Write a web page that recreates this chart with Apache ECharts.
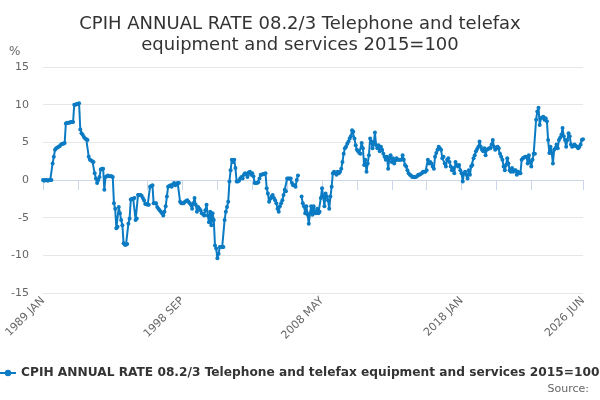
<!DOCTYPE html>
<html>
<head>
<meta charset="utf-8">
<script src="https://cdn.jsdelivr.net/npm/echarts@6/dist/echarts.min.js"></script>
<style>html,body{margin:0;padding:0;background:#fff}#c{width:600px;height:400px}</style>
</head>
<body>
<div id="c"></div>
<script>
const monthNames = ['JAN','FEB','MAR','APR','MAY','JUN','JUL','AUG','SEP','OCT','NOV','DEC'];
const firstYear = 1989;
const lastYear = 2026;
const lastMonthCount = 6;
const yTicks = [-15, -10, -5, 0, 5, 10, 15];
const seriesName = 'CPIH ANNUAL RATE 08.2/3 Telephone and telefax equipment and services 2015=100';

const rates1989to1998 = [
  0, -0.1, 0, 0, -0.1, 0, 0, 0, 2.2, 3.1, 4.0, 4.2,
  4.3, 4.4, 4.5, 4.7, 4.8, 4.8, 4.9, 7.5, 7.6, 7.6, 7.6, 7.7,
  7.7, 7.7, 10.0, 10.0, 10.1, 10.1, 10.2, 6.7, 6.2, 6.0, 5.7, 5.5,
  5.4, 5.3, 3.1, 2.7, 2.6, 2.5, 2.4, 0.9, 0.2, -0.4, 0.0, 0.4,
  1.4, 1.5, 1.5, -1.3, 0.4, 0.5, 0.6, 0.5, 0.5, 0.5, 0.4, -3.1,
  -3.8, -6.4, -6.2, -3.6, -4.4, -5.3, -6.0, -8.4, -8.6, -8.6, -8.5, -5.8,
  -5.1, -2.6, -2.5, -2.5, -2.4, -5.3, -5.1, -2.0, -2.0, -2.0, -2.1, -2.4,
  -2.7, -3.2, -3.2, -3.3, -3.3, -0.9, -0.8, -0.7, -3.1, -3.1, -3.1, -3.6,
  -3.8, -4.0, -4.2, -4.4, -4.7, -4.2, -3.5, -2.2, -0.9, -0.8, -0.7, -0.9,
  -0.6, -0.4, -0.7, -0.5, -0.4, -0.4, -2.9, -3.1, -3.1, -3.1, -2.9, -2.8
];
const rates1999to2008 = [
  -2.7, -2.9, -3.1, -3.3, -3.8, -3.1, -2.4, -3.3, -4.2, -3.6, -3.8, -4.0,
  -4.4, -4.5, -4.7, -4.0, -3.3, -4.7, -5.6, -4.2, -6.0, -4.4, -5.3, -8.7,
  -9.1, -10.4, -9.8, -8.9, -8.9, -8.9, -8.9, -5.3, -4.2, -3.6, -2.9, -0.2,
  1.3, 2.7, 2.4, 2.7, 1.6, -0.2, -0.2, -0.1, 0.2, 0.4, 0.2, 0.7,
  0.9, 0.8, 0.4, 1.0, 1.1, 0.7, 0.9, 0.5, -0.4, -0.4, -0.4, -0.3,
  0.2, 0.7, 0.7, 0.8, 0.8, 0.9, -1.1, -1.8, -2.9, -2.5, -2.2, -2.0,
  -2.4, -2.7, -3.1, -3.8, -4.2, -3.5, -3.1, -2.7, -2.0, -1.3, -1.5, 0.2,
  0.2, 0.2, 0.2, -0.4, -0.7, -0.7, -0.9, 0.0, 0.6, null, null, -2.2,
  -3.1, -3.5, -4.4, -3.5, -4.6, -5.8, -4.4, -3.5, -4.6, -3.5, -4.4, -4.4,
  -3.8, -4.4, -4.2, -2.4, -1.1, -2.2, -3.5, -1.8, -2.2, -2.7, -3.8, -2.2
];
const rates2009to2018 = [
  -0.9, 0.9, 1.1, 0.9, 0.7, 1.1, 0.9, 1.1, 1.5, 2.4, 3.5, 4.2,
  4.4, 4.8, 5.1, 5.5, 5.8, 6.6, 6.4, 5.5, 4.6, 4.0, 3.8, 3.6,
  3.5, 4.9, 4.2, 2.0, 2.7, 1.1, 2.2, 3.3, 5.5, 5.1, 4.2, 4.9,
  6.3, 4.6, 4.2, 4.6, 3.8, 4.4, 4.0, 3.5, 3.1, 2.7, 3.1, 1.5,
  2.9, 3.3, 2.4, 2.9, 2.2, 2.6, 2.9, 2.7, 2.7, 2.7, 2.7, 3.3,
  2.7, 2.0, 1.8, 1.3, 0.9, 0.7, 0.6, 0.4, 0.4, 0.35, 0.4, 0.5,
  0.7, 0.7, 0.8, 0.9, 1.1, 1.1, 1.1, 1.3, 2.7, 2.2, 2.4, 2.2,
  1.8, 1.5, 3.1, 3.6, 4.0, 4.4, 4.2, 4.0, 2.9, 3.1, 2.2, 1.8,
  2.7, 2.9, 2.4, 1.8, 1.3, 1.6, 0.9, 2.4, 2.0, 1.8, 2.0, 1.3,
  0.9, -0.2, 0.9, 1.1, 0.7, 0.2, 1.3, 0.7, 1.8, 2.0, 2.9, 3.3
];
const rates2019to2026 = [
  3.8, 4.1, 4.4, 5.1, 4.4, 4.0, 3.8, 4.2, 3.3, 4.0, 4.1, 4.2,
  4.2, 4.7, 5.3, 4.4, 4.0, 4.2, 4.4, 4.2, 3.5, 3.1, 2.7, 1.8,
  1.3, 2.0, 2.9, 2.2, 1.3, 1.1, 1.6, 1.1, 1.3, 1.3, 0.7, 1.1,
  0.9, 0.9, 2.7, 2.9, 3.0, 3.1, 3.1, 2.2, 3.3, 2.4, 1.8, 2.7,
  3.5, 3.5, 8.0, 9.1, 9.6, 7.3, 8.2, 8.3, 8.4, 8.0, 8.2, 7.8,
  5.3, 3.6, 4.4, 3.6, 2.2, 4.0, 4.2, 4.7, 4.2, 5.3, 5.6, 6.0,
  6.9, 5.8, 5.3, 4.4, 5.3, 6.2, 5.8, 4.7, 4.4, 4.5, 4.7, 4.5,
  4.4, 4.2, 4.4, 4.7, 5.3, 5.4
];

const categories = [];
for (let y = firstYear; y <= lastYear; y++) {
  const n = (y === lastYear) ? lastMonthCount : 12;
  for (let m = 0; m < n; m++) categories.push(y + ' ' + monthNames[m]);
}
const values = rates1989to1998.concat(rates1999to2008, rates2009to2018, rates2019to2026);
const lastIdx = categories.length - 1;

const font = 'DejaVu Sans';
const chart = echarts.init(document.getElementById('c'), null, {renderer: 'canvas'});
chart.setOption({
  animation: false,
  backgroundColor: '#ffffff',
  textStyle: {fontFamily: font},
  title: {
    text: 'CPIH ANNUAL RATE 08.2/3 Telephone and telefax\nequipment and services 2015=100',
    left: 'center',
    top: 9,
    textStyle: {fontFamily: font, fontSize: 18, fontWeight: 'normal', color: '#333333', lineHeight: 21, align: 'center'}
  },
  grid: {left: 43, right: 17, top: 67, bottom: 107, containLabel: false},
  legend: {
    left: -6,
    top: 362,
    itemWidth: 16,
    itemHeight: 8,
    textStyle: {fontFamily: font, fontSize: 12.2, fontWeight: 'bold', color: '#333333'},
    data: [seriesName]
  },
  graphic: [
    {type: 'text', left: 9, top: 46, style: {text: '%', font: '12px "DejaVu Sans"', fill: '#666666'}},
    {type: 'text', right: 11, top: 384, style: {text: 'Source:', font: '11px "DejaVu Sans"', fill: '#666666'}}
  ],
  xAxis: {
    type: 'category',
    data: categories,
    boundaryGap: false,
    axisLine: {lineStyle: {color: '#ccd6eb'}},
    axisTick: {
      length: 10,
      lineStyle: {color: '#ccd6eb'},
      interval: function (idx) { return (idx % 29 === 0 && idx <= 406) || idx === lastIdx; }
    },
    axisLabel: {
      rotate: 45,
      color: '#666666',
      fontSize: 11,
      fontFamily: font,
      margin: 6,
      interval: function (idx) { return idx % 116 === 0 || idx === lastIdx; }
    },
    splitLine: {show: false}
  },
  yAxis: {
    type: 'value',
    min: yTicks[0],
    max: yTicks[yTicks.length - 1],
    interval: 5,
    axisLine: {show: false},
    axisTick: {show: false},
    axisLabel: {color: '#666666', fontSize: 11, fontFamily: font, margin: 14},
    splitLine: {lineStyle: {color: '#e6e6e6', width: 1}}
  },
  series: [{
    name: seriesName,
    type: 'line',
    data: values,
    connectNulls: false,
    symbol: 'circle',
    symbolSize: 4,
    showSymbol: true,
    showAllSymbol: true,
    itemStyle: {color: '#0b7bc3'},
    lineStyle: {color: '#0b7bc3', width: 2}
  }]
});
</script>
</body>
</html>
